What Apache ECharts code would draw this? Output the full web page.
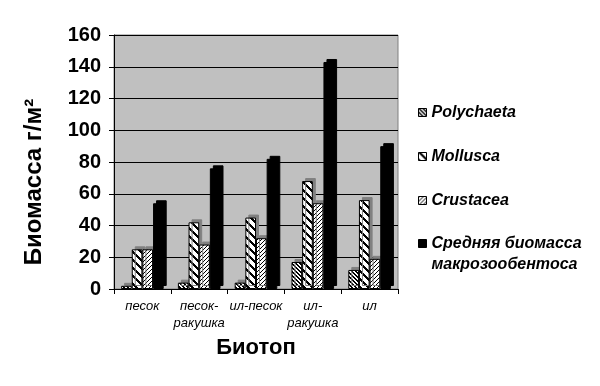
<!DOCTYPE html>
<html>
<head>
<meta charset="utf-8">
<script src="https://cdn.jsdelivr.net/npm/echarts@6/dist/echarts.min.js"></script>
<style>
html,body{margin:0;padding:0;background:#fff;}
#chart{width:600px;height:386px;}
</style>
</head>
<body>
<div id="chart"></div>
<script>
const categories = ['песок', 'песок-\nракушка', 'ил-песок', 'ил-\nракушка', 'ил'];
const seriesNames = ['Polychaeta', 'Mollusca', 'Crustacea', 'Средняя биомасса\nмакрозообентоса'];
const polychaeta = [2, 4, 4, 17, 12];
const mollusca = [25, 42, 45, 68, 56];
const crustacea = [25, 28, 32, 54, 19];
const meanBiomass = [54, 76, 82, 143, 90];
const yTicks = { min: 0, max: 160, interval: 20 };

function makePattern(n, w, dir) {
  const c = document.createElement('canvas');
  c.width = n; c.height = n;
  const ctx = c.getContext('2d');
  const img = ctx.createImageData(n, n);
  for (let y = 0; y < n; y++) {
    for (let x = 0; x < n; x++) {
      const k = dir > 0 ? (x + y) % n : (((x - y) % n) + n) % n;
      const v = k < w ? 0 : 255;
      const i = (y * n + x) * 4;
      img.data[i] = v; img.data[i + 1] = v; img.data[i + 2] = v; img.data[i + 3] = 255;
    }
  }
  ctx.putImageData(img, 0, 0);
  return { image: c, repeat: 'repeat' };
}

const fills = [
  makePattern(4, 2, -1),
  makePattern(8, 3, -1),
  makePattern(4, 1, 1),
  '#000000'
];
const dataSets = [polychaeta, mollusca, crustacea, meanBiomass];

const chart = echarts.init(document.getElementById('chart'), null, { renderer: 'canvas' });

const legendText = {
  fontFamily: 'Liberation Sans, Arial, sans-serif',
  fontSize: 16,
  fontWeight: 'bold',
  fontStyle: 'italic',
  color: '#000',
  lineHeight: 21
};
const legendIconStyle = { borderColor: '#000', borderWidth: 1, shadowColor: 'rgba(0,0,0,0)', shadowOffsetX: 0, shadowOffsetY: 0 };

const option = {
  animation: false,
  backgroundColor: '#ffffff',
  grid: {
    left: 114, right: 202, top: 35, bottom: 97,
    show: true,
    backgroundColor: '#c0c0c0',
    borderColor: '#808080',
    borderWidth: 1
  },
  legend: [
    {
      data: seriesNames.slice(0, 3),
      orient: 'vertical',
      left: 413, top: 97,
      itemWidth: 8, itemHeight: 8, itemGap: 23,
      icon: 'rect',
      itemStyle: legendIconStyle,
      textStyle: legendText,
      selectedMode: false
    },
    {
      data: seriesNames.slice(3),
      orient: 'vertical',
      left: 413, top: 207,
      itemWidth: 8, itemHeight: 8,
      icon: 'rect',
      itemStyle: legendIconStyle,
      formatter: function (n) { return '\u00a0\n' + n; },
      textStyle: legendText,
      selectedMode: false
    }
  ],
  xAxis: {
    type: 'category',
    data: categories,
    name: 'Биотоп',
    nameLocation: 'middle',
    nameGap: 39,
    nameTextStyle: { fontFamily: 'Liberation Sans, Arial, sans-serif', fontSize: 22, fontWeight: 'bold', color: '#000' },
    axisLine: { lineStyle: { color: '#000', width: 1 } },
    axisTick: { show: true, length: 5, lineStyle: { color: '#000' } },
    axisLabel: {
      interval: 0,
      margin: 9,
      fontFamily: 'Liberation Sans, Arial, sans-serif',
      fontSize: 13,
      fontStyle: 'italic',
      color: '#000',
      lineHeight: 17
    },
    splitLine: { show: false }
  },
  yAxis: {
    type: 'value',
    min: yTicks.min, max: yTicks.max, interval: yTicks.interval,
    name: 'Биомасса г/м²',
    nameLocation: 'middle',
    nameGap: 68,
    nameRotate: 90,
    nameTextStyle: { fontFamily: 'Liberation Sans, Arial, sans-serif', fontSize: 24, fontWeight: 'bold', color: '#000', padding: [0, 40, 0, 0] },
    axisLine: { show: true, lineStyle: { color: '#000', width: 1 } },
    axisTick: { show: true, length: 5, lineStyle: { color: '#000' } },
    axisLabel: {
      margin: 13,
      fontFamily: 'Liberation Sans, Arial, sans-serif',
      fontSize: 20,
      fontWeight: 'bold',
      color: '#000'
    },
    splitLine: { show: true, lineStyle: { color: '#000', width: 1 } }
  },
  series: seriesNames.map(function (name, i) {
    return {
      name: name,
      type: 'bar',
      data: dataSets[i],
      barGap: '0%',
      barCategoryGap: '25%',
      itemStyle: {
        color: fills[i],
        borderColor: '#000',
        borderWidth: 1,
        shadowColor: i === 3 ? '#000000' : '#808080',
        shadowOffsetX: 3,
        shadowOffsetY: -3,
        shadowBlur: 0
      },
      emphasis: { disabled: true }
    };
  })
};

chart.setOption(option);
</script>
</body>
</html>
